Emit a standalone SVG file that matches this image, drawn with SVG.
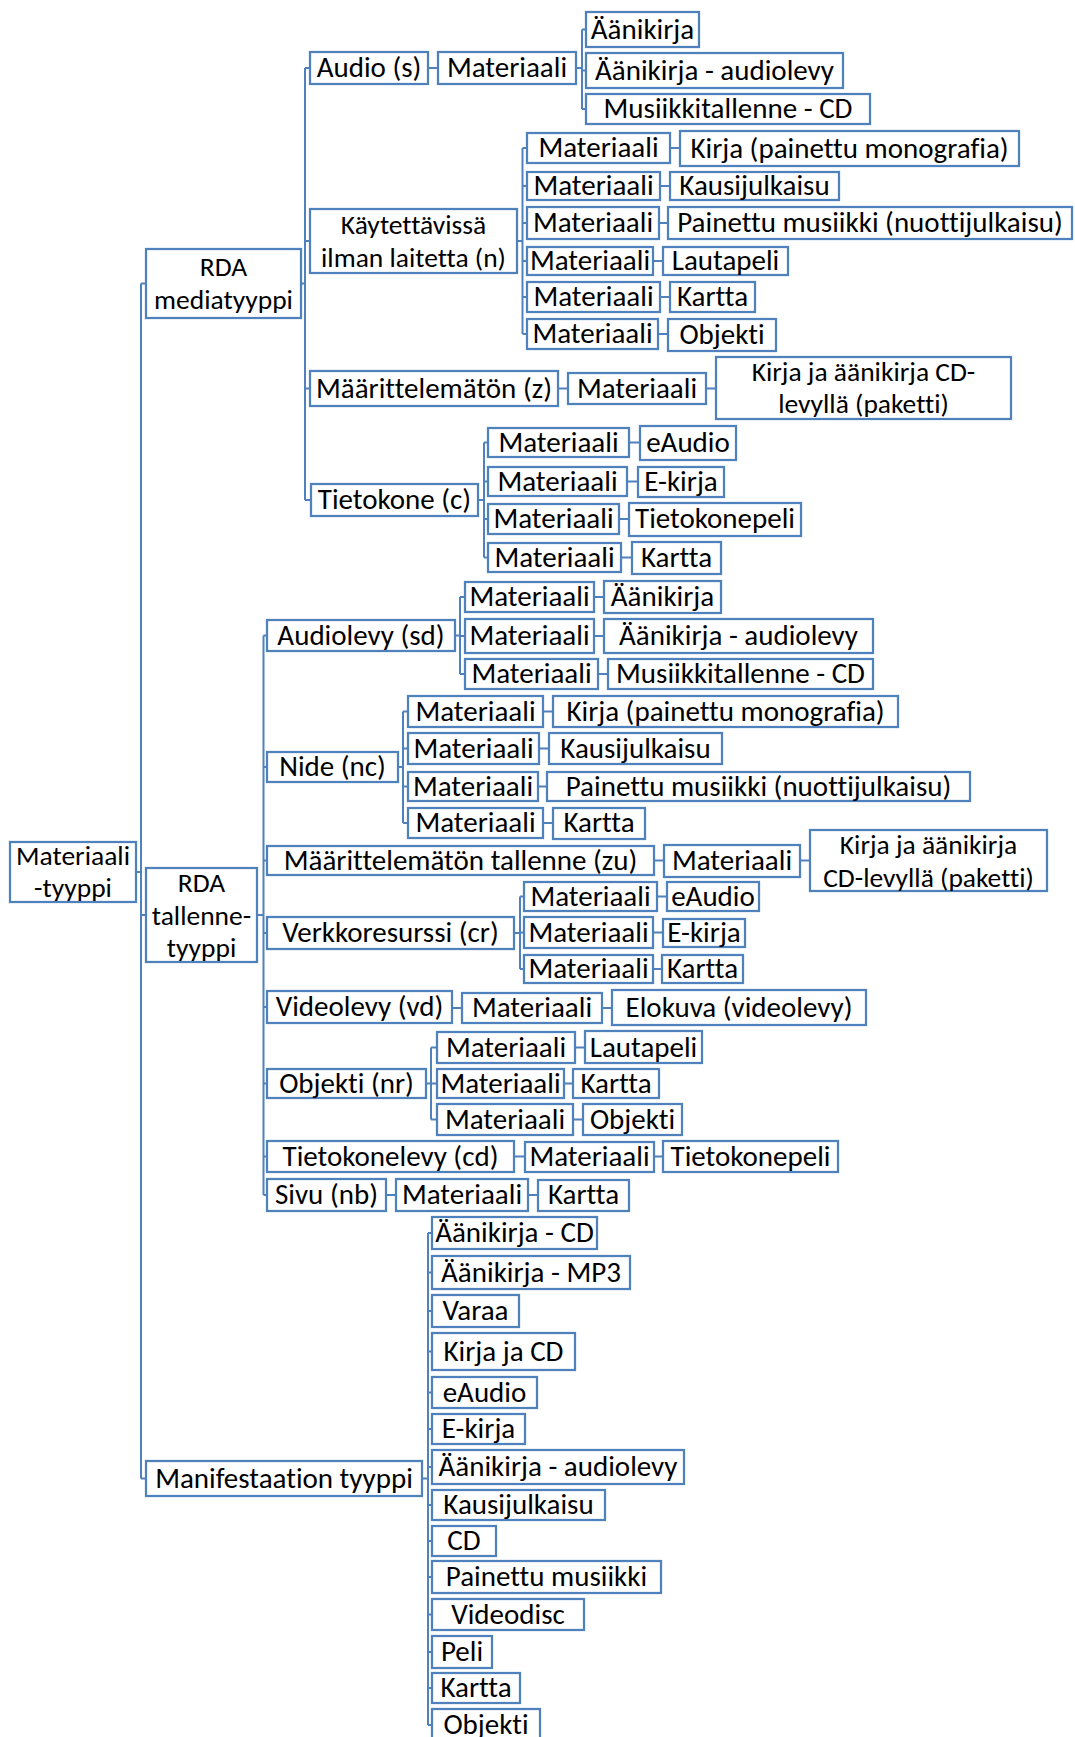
<svg xmlns="http://www.w3.org/2000/svg" width="1075" height="1737" viewBox="0 0 1075 1737">
<style>
rect{fill:#fff;stroke:#4F81BD;stroke-width:2.25}
text{font-family:Carlito,Calibri,Lato,sans-serif;font-size:29px;text-anchor:middle;fill:#000;font-variant-ligatures:none}
text.m{font-size:27.5px}
#conn path{fill:none;stroke:#4F81BD;stroke-width:2}
</style>
<rect x="0" y="0" width="1075" height="1737" style="stroke:none"/>
<g id="conn">
<path d="M136 872H141M141 283.5V1478.5M141 283.5H146M141 915H146M141 1478.5H146"/>
<path d="M301 283.5H305M305 68V500M305 68H310M305 241H310M305 388.5H310M305 500H311"/>
<path d="M428 68H438M576 68H582M582 29.5V109M582 29.5H586M582 70.5H586M582 109H586"/>
<path d="M517 241H522.5M522.5 148V334M522.5 148H527M522.5 186H527M522.5 223H527M522.5 261H527M522.5 297H527M522.5 334H527"/>
<path d="M670 148H680M660 186H670M659 223H668M653 261H663M660 297H670M658 334H668"/>
<path d="M558 388.5H568M706 388.5H716"/>
<path d="M478 500H484M484 442.5V557.5M484 442.5H488M484 481.5H488M484 519H488M484 557.5H488M629 442.5H640M627 481.5H638M619 519H629M621 557.5H632"/>
<path d="M257 915H263.5M263.5 635.5V1195M263.5 635.5H267M263.5 767H267M263.5 860.5H267M263.5 933H267M263.5 1007H267M263.5 1083.5H267M263.5 1156.5H267M263.5 1195H267"/>
<path d="M455 635.5H460M460 597V674M460 597H465M460 636H465M460 674H465M594 597H604M594 636H604M598 674H608"/>
<path d="M398 767H403M403 711.5V823M403 711.5H408M403 748.5H408M403 786.5H408M403 823H408M543 711.5H553M539 748.5H549M538 786.5H547M543 823H553"/>
<path d="M654 860.5H664M800 860.5H810"/>
<path d="M514 933H520M520 896.5V969M520 896.5H524M520 932.5H524M520 969H524M657 896.5H667M653 932.5H663M653 969H662"/>
<path d="M452 1008H462M602 1008H612"/>
<path d="M426 1083.5H431M431 1047.5V1119.5M431 1047.5H437M431 1083.5H437M431 1119.5H437M575 1047.5H585M564 1083.5H573M573 1119.5H583"/>
<path d="M514 1156.5H525M654 1156.5H663"/>
<path d="M386 1195H396M528 1195H538"/>
<path d="M422 1478.5H428M428 1233V1725M428 1233H432M428 1272.5H432M428 1311H432M428 1351.5H432M428 1392.5H432M428 1429H432M428 1467H432M428 1505H432M428 1541H432M428 1577H432M428 1614.5H432M428 1652H432M428 1688H432M428 1725H432"/>
</g>
<g id="root"><rect x="10" y="842" width="126" height="60"/><text class="m" x="73" y="865">Materiaali</text><text class="m" x="73" y="897">-tyyppi</text></g>
<g id="rdam"><rect x="146" y="249" width="155" height="69"/><text class="m" x="223.5" y="276">RDA</text><text class="m" x="223.5" y="309">mediatyyppi</text></g>
<g id="rdat"><rect x="146" y="868" width="111" height="94"/><text class="m" x="201.5" y="892">RDA</text><text class="m" x="201.5" y="924.5">tallenne-</text><text class="m" x="201.5" y="957">tyyppi</text></g>
<g id="manif"><rect x="146" y="1461" width="276" height="35"/><text x="284" y="1488">Manifestaation tyyppi</text></g>

<g id="audio"><rect x="310" y="52" width="118" height="32"/><text x="369" y="77">Audio (s)</text></g>
<g id="audio-m"><rect x="438" y="52" width="138" height="32"/><text x="507" y="77">Materiaali</text></g>
<g id="audio-1"><rect x="586" y="12" width="113" height="35"/><text x="642.5" y="38.5">Äänikirja</text></g>
<g id="audio-2"><rect x="586" y="53" width="257" height="35"/><text x="714.5" y="79.5">Äänikirja - audiolevy</text></g>
<g id="audio-3"><rect x="586" y="94" width="284" height="30"/><text x="728" y="118">Musiikkitallenne - CD</text></g>

<g id="kayt"><rect x="310" y="209" width="207" height="64"/><text class="m" x="413.5" y="234">Käytettävissä</text><text class="m" x="413.5" y="266.5">ilman laitetta (n)</text></g>
<g id="kayt-m1"><rect x="527" y="133" width="143" height="30"/><text x="598.5" y="157">Materiaali</text></g>
<g id="kayt-v1"><rect x="680" y="131" width="339" height="35"/><text x="849.5" y="157.5">Kirja (painettu monografia)</text></g>
<g id="kayt-m2"><rect x="527" y="172" width="133" height="28"/><text x="593.5" y="195">Materiaali</text></g>
<g id="kayt-v2"><rect x="670" y="172" width="169" height="28"/><text x="754.5" y="195">Kausijulkaisu</text></g>
<g id="kayt-m3"><rect x="527" y="207" width="132" height="32"/><text x="593" y="232">Materiaali</text></g>
<g id="kayt-v3"><rect x="668" y="207" width="404" height="32"/><text x="870" y="232">Painettu musiikki (nuottijulkaisu)</text></g>
<g id="kayt-m4"><rect x="527" y="247" width="126" height="28"/><text x="590" y="270">Materiaali</text></g>
<g id="kayt-v4"><rect x="663" y="247" width="125" height="28"/><text x="725.5" y="270">Lautapeli</text></g>
<g id="kayt-m5"><rect x="527" y="282" width="133" height="30"/><text x="593.5" y="306">Materiaali</text></g>
<g id="kayt-v5"><rect x="670" y="282" width="85" height="30"/><text x="712.5" y="306">Kartta</text></g>
<g id="kayt-m6"><rect x="527" y="319" width="131" height="30"/><text x="592.5" y="343">Materiaali</text></g>
<g id="kayt-v6"><rect x="668" y="319" width="108" height="32"/><text x="722" y="344">Objekti</text></g>

<g id="maar"><rect x="310" y="371" width="248" height="35"/><text x="434" y="397.5">Määrittelemätön (z)</text></g>
<g id="maar-m"><rect x="568" y="373" width="138" height="31"/><text x="637" y="397.5">Materiaali</text></g>
<g id="maar-v"><rect x="716" y="357" width="295" height="62"/><text class="m" x="863.5" y="380.5">Kirja ja äänikirja CD-</text><text class="m" x="863.5" y="412.5">levyllä (paketti)</text></g>

<g id="tiet"><rect x="311" y="484" width="167" height="32"/><text x="394.5" y="509">Tietokone (c)</text></g>
<g id="tiet-m1"><rect x="488" y="428" width="141" height="29"/><text x="558.5" y="451.5">Materiaali</text></g>
<g id="tiet-v1"><rect x="640" y="426" width="96" height="34"/><text x="688" y="451.5">eAudio</text></g>
<g id="tiet-m2"><rect x="488" y="467" width="139" height="29"/><text x="557.5" y="490.5">Materiaali</text></g>
<g id="tiet-v2"><rect x="638" y="467" width="86" height="30"/><text x="681" y="490.5">E-kirja</text></g>
<g id="tiet-m3"><rect x="488" y="504" width="131" height="30"/><text x="553.5" y="528">Materiaali</text></g>
<g id="tiet-v3"><rect x="629" y="503" width="172" height="33"/><text x="715" y="528">Tietokonepeli</text></g>
<g id="tiet-m4"><rect x="488" y="543" width="133" height="29"/><text x="554.5" y="566.5">Materiaali</text></g>
<g id="tiet-v4"><rect x="632" y="542" width="89" height="32"/><text x="676.5" y="566.5">Kartta</text></g>

<g id="alev"><rect x="267" y="620" width="188" height="31"/><text x="361" y="644.5">Audiolevy (sd)</text></g>
<g id="alev-m1"><rect x="465" y="582" width="129" height="30"/><text x="529.5" y="606">Materiaali</text></g>
<g id="alev-v1"><rect x="604" y="581" width="117" height="32"/><text x="662.5" y="606">Äänikirja</text></g>
<g id="alev-m2"><rect x="465" y="619" width="129" height="34"/><text x="529.5" y="645">Materiaali</text></g>
<g id="alev-v2"><rect x="604" y="619" width="269" height="34"/><text x="738.5" y="645">Äänikirja - audiolevy</text></g>
<g id="alev-m3"><rect x="465" y="659" width="133" height="30"/><text x="531.5" y="683">Materiaali</text></g>
<g id="alev-v3"><rect x="608" y="659" width="265" height="30"/><text x="740.5" y="683">Musiikkitallenne - CD</text></g>

<g id="nide"><rect x="267" y="752" width="131" height="30"/><text x="332.5" y="776">Nide (nc)</text></g>
<g id="nide-m1"><rect x="408" y="696" width="135" height="31"/><text x="475.5" y="720.5">Materiaali</text></g>
<g id="nide-v1"><rect x="553" y="696" width="345" height="31"/><text x="725.5" y="720.5">Kirja (painettu monografia)</text></g>
<g id="nide-m2"><rect x="408" y="733" width="131" height="31"/><text x="473.5" y="757.5">Materiaali</text></g>
<g id="nide-v2"><rect x="549" y="733" width="173" height="31"/><text x="635.5" y="757.5">Kausijulkaisu</text></g>
<g id="nide-m3"><rect x="408" y="772" width="130" height="29"/><text x="473" y="795.5">Materiaali</text></g>
<g id="nide-v3"><rect x="547" y="772" width="423" height="29"/><text x="758.5" y="795.5">Painettu musiikki (nuottijulkaisu)</text></g>
<g id="nide-m4"><rect x="408" y="808" width="135" height="30"/><text x="475.5" y="832">Materiaali</text></g>
<g id="nide-v4"><rect x="553" y="808" width="92" height="31"/><text x="599" y="832">Kartta</text></g>

<g id="maart"><rect x="267" y="846" width="387" height="29"/><text x="460.5" y="869.5">Määrittelemätön tallenne (zu)</text></g>
<g id="maart-m"><rect x="664" y="845" width="136" height="32"/><text x="732" y="869.5">Materiaali</text></g>
<g id="maart-v"><rect x="810" y="830" width="237" height="61"/><text class="m" x="928.5" y="853.5">Kirja ja äänikirja</text><text class="m" x="928.5" y="886.5">CD-levyllä (paketti)</text></g>

<g id="verk"><rect x="267" y="917" width="247" height="32"/><text x="390.5" y="942">Verkkoresurssi (cr)</text></g>
<g id="verk-m1"><rect x="524" y="882" width="133" height="29"/><text x="590.5" y="905.5">Materiaali</text></g>
<g id="verk-v1"><rect x="667" y="882" width="92" height="29"/><text x="713" y="905.5">eAudio</text></g>
<g id="verk-m2"><rect x="524" y="917" width="129" height="31"/><text x="588.5" y="941.5">Materiaali</text></g>
<g id="verk-v2"><rect x="663" y="919" width="82" height="28"/><text x="704" y="941.5">E-kirja</text></g>
<g id="verk-m3"><rect x="524" y="955" width="129" height="28"/><text x="588.5" y="978">Materiaali</text></g>
<g id="verk-v3"><rect x="662" y="955" width="81" height="28"/><text x="702.5" y="978">Kartta</text></g>

<g id="video"><rect x="267" y="991" width="185" height="32"/><text x="359.5" y="1016">Videolevy (vd)</text></g>
<g id="video-m"><rect x="462" y="993" width="140" height="30"/><text x="532" y="1017">Materiaali</text></g>
<g id="video-v"><rect x="612" y="990" width="254" height="35"/><text x="739" y="1017">Elokuva (videolevy)</text></g>

<g id="obj"><rect x="267" y="1069" width="159" height="29"/><text x="346.5" y="1092.5">Objekti (nr)</text></g>
<g id="obj-m1"><rect x="437" y="1032" width="138" height="31"/><text x="506" y="1056.5">Materiaali</text></g>
<g id="obj-v1"><rect x="585" y="1031" width="117" height="32"/><text x="643.5" y="1056.5">Lautapeli</text></g>
<g id="obj-m2"><rect x="437" y="1069" width="127" height="29"/><text x="500.5" y="1092.5">Materiaali</text></g>
<g id="obj-v2"><rect x="573" y="1069" width="86" height="29"/><text x="616" y="1092.5">Kartta</text></g>
<g id="obj-m3"><rect x="437" y="1104" width="136" height="31"/><text x="505" y="1128.5">Materiaali</text></g>
<g id="obj-v3"><rect x="583" y="1104" width="99" height="31"/><text x="632.5" y="1128.5">Objekti</text></g>

<g id="tlevy"><rect x="267" y="1141" width="247" height="31"/><text x="390.5" y="1165.5">Tietokonelevy (cd)</text></g>
<g id="tlevy-m"><rect x="525" y="1142" width="129" height="30"/><text x="589.5" y="1165.5">Materiaali</text></g>
<g id="tlevy-v"><rect x="663" y="1141" width="175" height="31"/><text x="750.5" y="1165.5">Tietokonepeli</text></g>

<g id="sivu"><rect x="267" y="1179" width="119" height="32"/><text x="326.5" y="1204">Sivu (nb)</text></g>
<g id="sivu-m"><rect x="396" y="1179" width="132" height="32"/><text x="462" y="1204">Materiaali</text></g>
<g id="sivu-v"><rect x="538" y="1180" width="91" height="31"/><text x="583.5" y="1204">Kartta</text></g>

<g id="mf1"><rect x="432" y="1217" width="165" height="32"/><text x="514.5" y="1242">Äänikirja - CD</text></g>
<g id="mf2"><rect x="432" y="1256" width="198" height="33"/><text x="531" y="1281.5">Äänikirja - MP3</text></g>
<g id="mf3"><rect x="432" y="1295" width="87" height="32"/><text x="475.5" y="1320">Varaa</text></g>
<g id="mf4"><rect x="432" y="1333" width="143" height="37"/><text x="503.5" y="1360.5">Kirja ja CD</text></g>
<g id="mf5"><rect x="432" y="1377" width="105" height="31"/><text x="484.5" y="1401.5">eAudio</text></g>
<g id="mf6"><rect x="432" y="1414" width="93" height="30"/><text x="478.5" y="1438">E-kirja</text></g>
<g id="mf7"><rect x="432" y="1450" width="252" height="34"/><text x="558" y="1476">Äänikirja - audiolevy</text></g>
<g id="mf8"><rect x="432" y="1490" width="173" height="30"/><text x="518.5" y="1514">Kausijulkaisu</text></g>
<g id="mf9"><rect x="432" y="1526" width="64" height="30"/><text x="464" y="1550">CD</text></g>
<g id="mf10"><rect x="432" y="1561" width="229" height="32"/><text x="546.5" y="1586">Painettu musiikki</text></g>
<g id="mf11"><rect x="432" y="1599" width="152" height="31"/><text x="508" y="1623.5">Videodisc</text></g>
<g id="mf12"><rect x="432" y="1636" width="60" height="32"/><text x="462" y="1661">Peli</text></g>
<g id="mf13"><rect x="432" y="1673" width="88" height="30"/><text x="476" y="1697">Kartta</text></g>
<g id="mf14"><rect x="432" y="1709" width="108" height="33"/><text x="486" y="1734">Objekti</text></g>
</svg>
